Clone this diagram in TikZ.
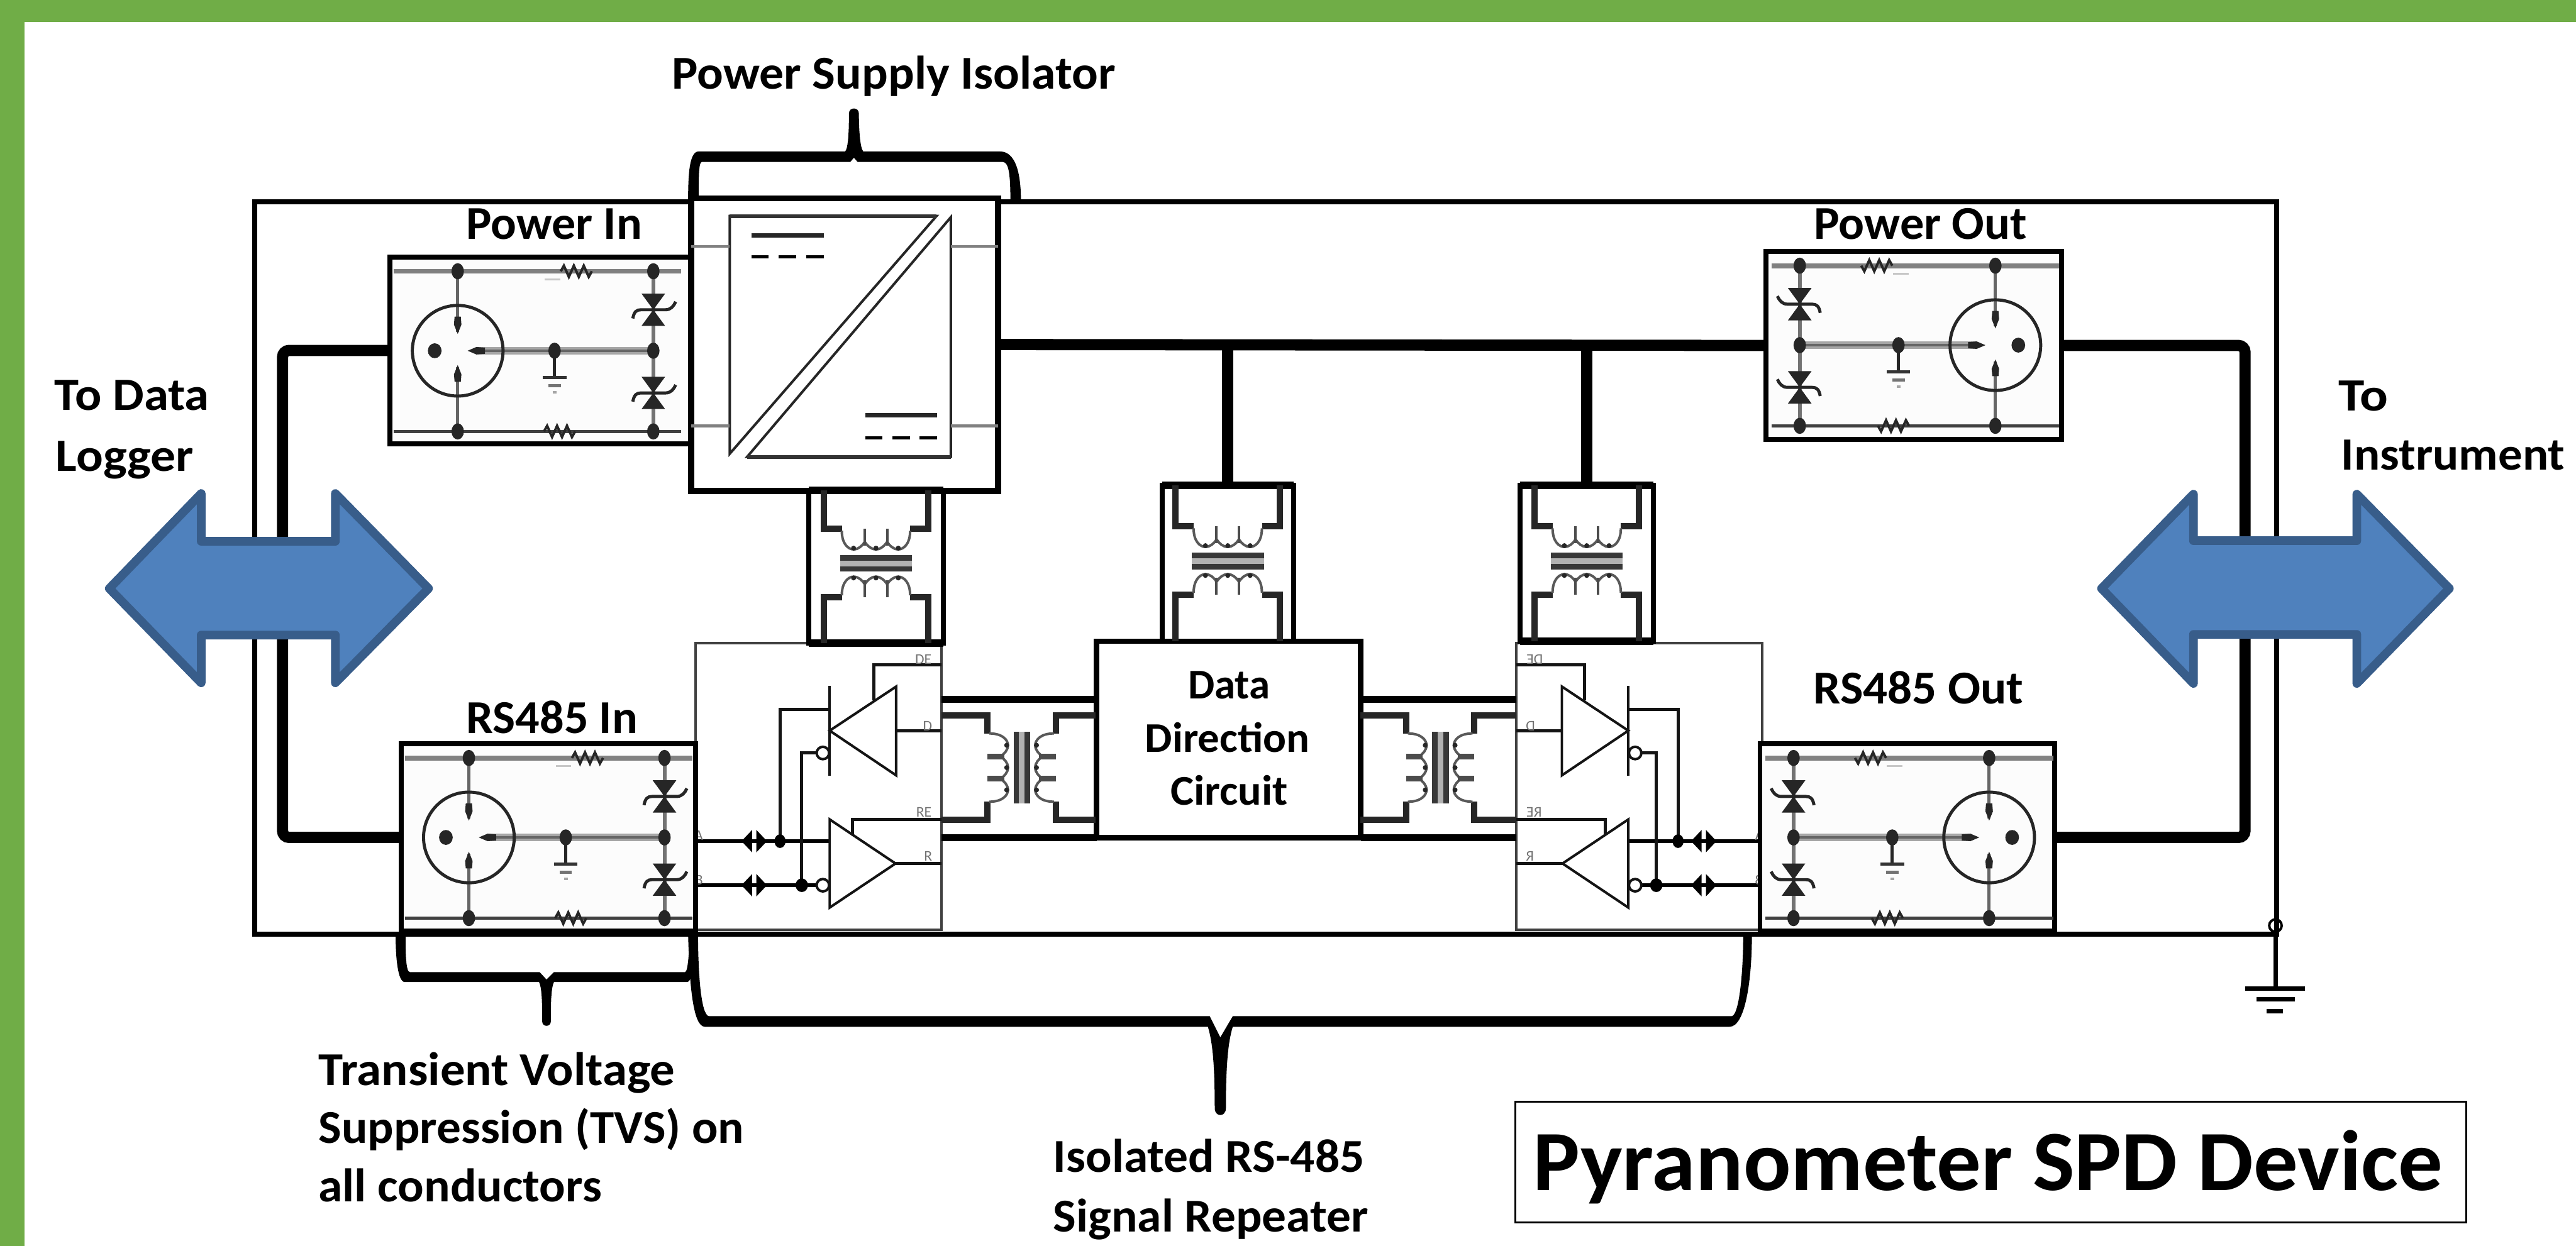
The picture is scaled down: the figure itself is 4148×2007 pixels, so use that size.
\documentclass[tikz,border=0pt]{standalone}
\usepackage{fontspec}
\usepackage{graphicx}
\setmainfont{Carlito}
\newdimen\pxl \pxl=0.01cm
\definecolor{frameg}{HTML}{70AD47}
\definecolor{arrfill}{HTML}{4F81BD}
\definecolor{arrline}{HTML}{385D8A}
\definecolor{modfill}{HTML}{FCFCFC}
\tikzset{
  lw/.style={line width=#1*0.2845pt},
  boxnode/.style={draw=black,fill=white,inner sep=0pt,outer sep=0pt,lw=#1},
  busline/.style={draw=black,lw=18,rounded corners=3pt},
  bigarrow/.style={draw=arrline,fill=arrfill,lw=14,line join=round},
  lbl/.style={inner sep=0pt,outer sep=0pt,anchor=base west,text=black},
  tiny/.style={inner sep=0pt,outer sep=0pt,anchor=base east,text=black!55,transform shape,font=\fontsize{6.8pt}{7pt}\selectfont},
  ckt/.style={draw=black!92,lw=4},
  sig/.style={draw=black,lw=6},
  lead/.style={draw=black!85,lw=10,line join=miter},
  coil/.style={draw=black!65,lw=4},
  dot/.style={fill=black!85},
}
\newcommand{\fslab}[6]{\node[lbl] (#1) at (#2,#3) {\fontsize{#5pt}{#5pt}\selectfont\resizebox{#4\pxl}{\height}{\bfseries #6}};}
% surge module drawn around the connector centre: x, y, mirror
\newcommand{\tvsmod}[3]{%
\begin{scope}[shift={(#1,#2)},xscale=#3]
  \draw[draw=black!50,lw=8] (-103,-128) -- (360,-128);
  \draw[draw=black!75,lw=5] (-103,130) -- (360,130);
  \draw[draw=black!35,lw=12] (30,0) -- (315,0);
  \draw[draw=black!60,lw=4] (30,0) -- (315,0);
  \draw[draw=black!60,lw=5] (0,-128) -- (0,-30);
  \draw[draw=black!60,lw=5] (0,130) -- (0,26);
  \draw[draw=black!55,lw=6] (315,-128) -- (315,130);
  \draw[draw=black!85,lw=5] (0,0) circle[radius=73];
  \fill[dot] (0,-27) -- (6,-42) -- (5,-55) -- (-5,-55) -- (-6,-42) -- cycle;
  \fill[dot] (0,23) -- (6,38) -- (5,50) -- (-5,50) -- (-6,38) -- cycle;
  \fill[dot] (16,0) -- (30,6) -- (44,5) -- (44,-5) -- (30,-6) -- cycle;
  \fill[dot] (-37,0) ellipse[x radius=11,y radius=12];
  \foreach \px/\py in {0/-128,0/130,315/-128,315/130,315/0}{\fill[dot] (\px,\py) ellipse[x radius=10,y radius=13];}
  \fill[dot] (156,0) ellipse[x radius=10,y radius=13];
  % earth
  \draw[draw=black!85,lw=5] (156,0) -- (156,43);
  \draw[draw=black!80,lw=5] (137,43) -- (175,43);
  \draw[draw=black!55,lw=5] (146,56) -- (166,56);
  \draw[draw=black!35,lw=4] (153,67) -- (159,67);
  % suppressors
  \foreach \zy in {-66,68}{
    \fill[dot] (296,\zy-26) -- (334,\zy-26) -- (315,\zy) -- cycle;
    \fill[dot] (296,\zy+26) -- (334,\zy+26) -- (315,\zy) -- cycle;
    \draw[draw=black!85,lw=5] (282,\zy+14) .. controls (284,\zy+3) and (288,\zy) .. (295,\zy) -- (335,\zy) .. controls (343,\zy) and (348,\zy-6) .. (351,\zy-13);
  }
  % resistors
  \draw[draw=black!85,lw=4] (166,-128) -- ++(5,-9) -- ++(8,18) -- ++(8,-18) -- ++(8,18) -- ++(8,-18) -- ++(8,18) -- ++(5,-9);
  \draw[draw=black!85,lw=4] (139,130) -- ++(5,-9) -- ++(8,18) -- ++(8,-18) -- ++(8,18) -- ++(8,-18) -- ++(8,18) -- ++(5,-9);
  \draw[draw=black!22,lw=3] (140,-115) -- (165,-115);
\end{scope}}
% transformer: cx, cy, rotation, reach a, reach b, tap width
\newcommand{\xfmr}[6]{%
\begin{scope}[shift={(#1,#2)},rotate=#3]
  \draw[lead] (-84,-#4) -- (-84,-55) -- (-55,-55);
  \draw[lead] (84,-#4) -- (84,-55) -- (55,-55);
  \draw[lead] (-84,#5) -- (-84,55) -- (-55,55);
  \draw[lead] (84,#5) -- (84,55) -- (55,55);
  \foreach \sg in {-1,1}{
    \draw[coil] (-55,\sg*52) .. controls (-55,\sg*30) and (-44,\sg*22) .. (-36,\sg*22) .. controls (-28,\sg*22) and (-22,\sg*28) .. (-18,\sg*34) .. controls (-14,\sg*28) and (-8,\sg*22) .. (0,\sg*22) .. controls (8,\sg*22) and (14,\sg*28) .. (18,\sg*34) .. controls (22,\sg*28) and (28,\sg*22) .. (36,\sg*22) .. controls (44,\sg*22) and (55,\sg*30) .. (55,\sg*52);
    \draw[draw=black!70,lw=#6] (-18,\sg*55) -- (-18,\sg*28);
    \draw[draw=black!70,lw=#6] (18,\sg*55) -- (18,\sg*28);
    \foreach \bx in {-36,0,36}{\fill[black!85] (\bx,\sg*24) circle[radius=4];}
  }
  \fill[black!30] (-58,-4) rectangle (58,5);
  \fill[black!78] (-58,-13) rectangle (58,-4);
  \fill[black!78] (-58,5) rectangle (58,14);
\end{scope}}
% transceiver drawing
\newcommand{\rptckt}[1]{%
\begin{scope}[#1]
  \draw[sig] (1120,1355) -- (1336,1355);
  \draw[sig] (1120,1426) -- (1315,1426);
  \draw[ckt] (1336,1105) -- (1336,1250);
  \draw[ckt] (1336,1177) -- (1443,1106) -- (1443,1249) -- cycle;
  \draw[ckt] (1336,1320) -- (1336,1462) -- (1442,1391) -- cycle;
  \draw[ckt,lw=5] (1516,1071) -| (1407,1128);
  \draw[ckt,lw=5] (1443,1177) -- (1516,1177);
  \draw[ckt,lw=5] (1442,1391) -- (1516,1391);
  \draw[ckt,lw=5] (1516,1320) -| (1373,1346);
  \draw[ckt,lw=5] (1256,1355) |- (1336,1143);
  \draw[ckt,lw=5] (1291,1426) |- (1316,1213);
  \draw[ckt,fill=white] (1325,1213) circle[radius=10];
  \draw[ckt,fill=white] (1325,1426) circle[radius=10];
  \fill[black] (1256,1355) ellipse[x radius=9,y radius=11];
  \fill[black] (1291,1426) ellipse[x radius=10,y radius=11];
  \foreach \dy in {1355,1426}{
    \fill[black] (1194,\dy) -- (1211,\dy-18) -- (1211,\dy+18) -- cycle;
    \fill[black] (1235,\dy) -- (1218,\dy-18) -- (1218,\dy+18) -- cycle;
  }
  \node[tiny] at (1500,1070) {DE};
  \node[tiny] at (1501,1177) {D};
  \node[tiny] at (1500,1316) {RE};
  \node[tiny] at (1501,1387) {R};
  \node[tiny] at (1132,1353) {A};
  \node[tiny] at (1132,1425) {B};
\end{scope}}
\begin{document}
\begin{tikzpicture}[x=0.01cm,y=-0.01cm]
\useasboundingbox (0,0) rectangle (4148,2007);
\fill[white] (0,0) rectangle (4148,2007);
\fill[frameg] (0,0) rectangle (4148,35);
\fill[frameg] (0,0) rectangle (40,2007);

% enclosure
\draw[black,lw=8] (410,325) rectangle (3666,1505);

% earth
\coordinate (earthTop) at (3664,1505);
\coordinate (earthBar) at (3664,1592);
\draw[black,lw=7] (earthTop) -- (earthBar);
\draw[black,lw=4] (3664,1491) circle[radius=10];
\draw[black,lw=7] (3615,1592) -- (3711,1592);
\draw[black,lw=7] (3634,1610) -- (3695,1610);
\draw[black,lw=7] (3650,1629) -- (3676,1629);

% brackets
\fill[black] (1108,325) .. controls (1108,280) and (1110,244) .. (1125,244) -- (1361,244) .. controls (1366,238) and (1367,210) .. (1367,183) .. controls (1367,172) and (1383,172) .. (1383,183) .. controls (1383,210) and (1385,238) .. (1390,244) -- (1610,244) .. controls (1636,244) and (1644,280) .. (1644,325) -- (1627,325) .. controls (1627,285) and (1625,261) .. (1615,261) -- (1381,261) -- (1375,254) -- (1369,261) -- (1130,261) .. controls (1125,261) and (1125,285) .. (1125,325) -- cycle;
\fill[black] (637,1505) .. controls (637,1540) and (640,1582) .. (652,1582) -- (868,1582) .. controls (873,1592) and (873,1620) .. (873,1645) .. controls (873,1655) and (887,1655) .. (887,1645) .. controls (887,1620) and (887,1592) .. (892,1582) -- (1106,1582) .. controls (1116,1582) and (1122,1540) .. (1122,1505) -- (1110,1505) .. controls (1110,1530) and (1108,1566) .. (1103,1566) -- (892,1566) -- (880,1578) -- (869,1566) -- (660,1566) .. controls (653,1566) and (653,1530) .. (653,1505) -- cycle;
\fill[black] (1108,1505) .. controls (1110,1580) and (1115,1654) .. (1135,1654) -- (1945,1654) .. controls (1953,1680) and (1956,1720) .. (1956,1785) .. controls (1956,1800) and (1974,1800) .. (1974,1785) .. controls (1974,1720) and (1977,1680) .. (1985,1654) -- (2785,1654) .. controls (2810,1654) and (2821,1580) .. (2821,1505) -- (2807,1505) .. controls (2807,1570) and (2800,1637) .. (2788,1637) -- (1985,1637) -- (1965,1671) -- (1948,1637) -- (1142,1637) .. controls (1128,1637) and (1124,1560) .. (1124,1505) -- cycle;

% main boxes
\node[boxnode=4,draw=black!75,minimum width=396*\pxl,minimum height=462*\pxl] (rptL) at (1318,1267) {};
\node[boxnode=4,draw=black!75,minimum width=396*\pxl,minimum height=462*\pxl] (rptR) at (2640,1267) {};
\rptckt{}
\rptckt{shift={(3958,0)},xscale=-1}

\node[boxnode=8,minimum width=484*\pxl,minimum height=301*\pxl,fill=modfill] (pin) at (870,564.5) {};
\node[boxnode=8,minimum width=474*\pxl,minimum height=302*\pxl,fill=modfill] (rsin) at (883,1349) {};
\node[boxnode=8,minimum width=476*\pxl,minimum height=303*\pxl,fill=modfill] (pout) at (3082,556.5) {};
\node[boxnode=8,minimum width=474*\pxl,minimum height=302*\pxl,fill=modfill] (rsout) at (3071,1349) {};
\node[boxnode=10,minimum width=494*\pxl,minimum height=471*\pxl] (psi) at (1360,555) {};
\node[boxnode=9,minimum width=425*\pxl,minimum height=316*\pxl] (ddc) at (1978.5,1191) {};
\node[boxnode=8,minimum width=217*\pxl,minimum height=246*\pxl,fill=none] (t1) at (1410.5,913) {};
\node[boxnode=8,minimum width=212*\pxl,minimum height=251*\pxl,fill=none] (t2) at (1977,907.5) {};
\node[boxnode=8,minimum width=214*\pxl,minimum height=251*\pxl,fill=none] (t3) at (2555,907.5) {};

% thick top and bottom edges of the transformer cells
\draw[black,lw=12] (t1.north west) -- (t1.north east);
\draw[black,lw=12] (t1.south west) -- (t1.south east);
\draw[black,lw=12] (t2.north west) -- (t2.north east);
\draw[black,lw=12] (t3.north west) -- (t3.north east);
\draw[black,lw=12] (t3.south west) -- (t3.south east);

% horizontal transformer cells
\draw[black,lw=11] (rptL.east |- 0,1127) -- (ddc.west |- 0,1127);
\draw[black,lw=11] (rptL.east |- 0,1349) -- (ddc.south west);
\draw[black,lw=11] (ddc.east |- 0,1127) -- (rptR.west |- 0,1127);
\draw[black,lw=11] (ddc.south east) -- (rptR.west |- 0,1349);

\xfmr{1410.5}{907}{0}{117}{129}{4}
\xfmr{1977}{903}{0}{121}{130}{4}
\xfmr{2555}{903}{0}{121}{130}{4}
\xfmr{1645}{1236.5}{90}{129}{119}{9}
\xfmr{2319}{1236.5}{90}{129}{123}{9}

\tvsmod{737}{565}{1}
\tvsmod{755}{1349}{1}
\tvsmod{3213}{556}{-1}
\tvsmod{3203}{1349}{-1}

% DC/DC symbol
\draw[black!85,lw=4] (1175,731) -- (1175,348) -- (1508,348) -- cycle;
\draw[black!85,lw=4] (1531,350) -- (1531,736) -- (1203,736) -- cycle;
\draw[black!80,lw=6] (1175,348) -- (1508,348);
\draw[black!80,lw=6] (1203,736) -- (1531,736);
\foreach \sy in {397,686}{
  \draw[black!50,lw=5] (psi.west |- 0,\sy) -- (1175,\sy);
  \draw[black!50,lw=5] (1531,\sy) -- (psi.east |- 0,\sy);
}
\draw[black!85,lw=7] (1210,379) -- (1327,379);
\draw[black,lw=5] (1210,414) -- (1238,414) (1254,414) -- (1282,414) (1298,414) -- (1327,414);
\draw[black!85,lw=7] (1393,669) -- (1509,669);
\draw[black,lw=5] (1393,705) -- (1421,705) (1437,705) -- (1465,705) (1481,705) -- (1509,705);

% buses
\coordinate (lbus) at (455,950);
\coordinate (rbus) at (3615,950);
\draw[busline] (pin.west) -| (lbus) |- (rsin.west);
\draw[busline] (pout.east) -| (rbus) |- (rsout.east);
\draw[black,lw=18] (psi.east) -- (pout.west);
\draw[black,lw=18] (t2.north |- psi.east) -- (t2.north);
\draw[black,lw=18] (t3.north |- psi.east) -- (t3.north);

% large double arrows
\draw[bigarrow] (176,948) -- (324,795) -- (324,872) -- (540,872) -- (540,795) -- (690,948) -- (540,1100) -- (540,1023) -- (324,1023) -- (324,1100) -- cycle;
\draw[bigarrow] (3384,948) -- (3532,796) -- (3532,871) -- (3795,871) -- (3795,796) -- (3944,948) -- (3795,1101) -- (3795,1022) -- (3532,1022) -- (3532,1101) -- cycle;

% text
\fslab{tPsi}{1082}{143}{714}{21.6}{Power Supply Isolator}
\fslab{tPin}{751}{385}{283}{21.6}{Power In}
\fslab{tRin}{751}{1181}{276}{21.6}{RS485 In}
\fslab{tPout}{2921}{385}{343}{21.6}{Power Out}
\fslab{tRout}{2920}{1134}{338}{21.6}{RS485 Out}
\fslab{tLogA}{88}{661}{249}{21.2}{To Data}
\fslab{tLogB}{90}{759}{222}{21.2}{Logger}
\fslab{tInsA}{3766}{662}{80}{21.2}{To}
\fslab{tInsB}{3770}{757}{360}{21.2}{Instrument}
\fslab{tTvsA}{513}{1748}{574}{21.6}{Transient Voltage}
\fslab{tTvsB}{513}{1842}{685}{21.6}{Suppression (TVS) on}
\fslab{tTvsC}{513}{1936}{456}{21.6}{all conductors}
\fslab{tIsoA}{1696}{1888}{501}{21.6}{Isolated RS-485}
\fslab{tIsoB}{1696}{1984}{507}{21.6}{Signal Repeater}
\fslab{tDdA}{1913}{1126}{132}{19.4}{Data}
\fslab{tDdB}{1844}{1212}{265}{19.4}{Direction}
\fslab{tDdC}{1885}{1297}{189}{19.4}{Circuit}

\node[boxnode=3,minimum width=1531*\pxl,minimum height=194*\pxl] (tbox) at (3205.5,1872) {};
\fslab{tTitle}{2468}{1918}{1466}{39.3}{Pyranometer SPD Device}
\end{tikzpicture}
\end{document}
